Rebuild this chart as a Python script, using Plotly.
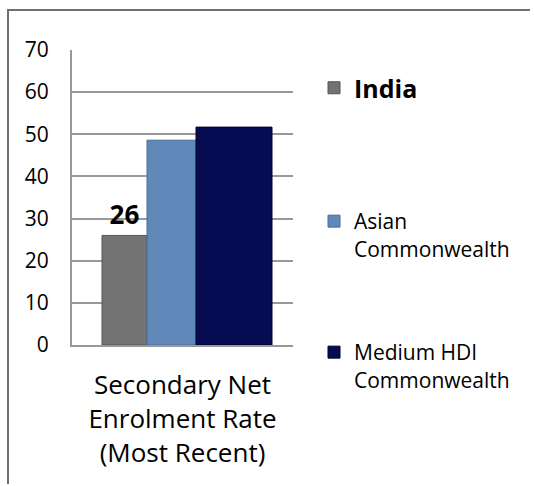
import plotly.graph_objects as go

categories = ["Secondary Net<br>Enrolment Rate<br>(Most Recent)"]
series_names = ["<b>India</b>", "Asian<br>Commonwealth", "Medium HDI<br>Commonwealth"]
india = [26]
asian = [48.6]
medium_hdi = [51.7]
india_label = ["26"]
y_ticks = [0, 10, 20, 30, 40, 50, 60, 70]

W, H = 534, 486
PL, PR, PT, PB = 72, 293, 50, 345  # plot area in screen pixels
L, R, T, B = PL, W - PR, PT, H - PB
pw, ph = PR - PL, PB - PT

def px_x(p):
    return (p - PL) / pw

def px_y(p):
    return (PB - p) / ph

FONT = "Open Sans"

fig = go.Figure()
fig.add_trace(go.Bar(
    x=categories, y=india, name=series_names[0], legend="legend",
    offset=px_x(102) - 0.5, width=(147 - 102) / pw,
    marker=dict(color="#737373", line=dict(color="#555555", width=1)),
    text=india_label, textposition="outside", cliponaxis=False,
    textfont=dict(family=FONT, size=26, color="#000000", weight="bold"),
))
fig.add_trace(go.Bar(
    x=categories, y=asian, name=series_names[1], legend="legend2",
    offset=px_x(147) - 0.5, width=(196 - 147) / pw,
    marker=dict(color="#6088b8", line=dict(color="#4a6d9a", width=1)),
))
fig.add_trace(go.Bar(
    x=categories, y=medium_hdi, name=series_names[2], legend="legend3",
    offset=px_x(196) - 0.5, width=(272 - 196) / pw,
    marker=dict(color="#060b52", line=dict(color="#00002e", width=1)),
))

leg_common = dict(xanchor="left", yanchor="middle", bgcolor="rgba(0,0,0,0)",
                  valign="top", itemclick=False, visible=True)

fig.update_layout(
    width=W, height=H,
    margin=dict(l=L, r=R, t=T, b=B, pad=0),
    paper_bgcolor="white", plot_bgcolor="white",
    font=dict(family=FONT, color="#000000"),
    barmode="overlay",
    showlegend=True,
    legend=dict(x=px_x(314), y=px_y(88), font=dict(size=25, color="#000000"), **leg_common),
    legend2=dict(x=px_x(314), y=px_y(235), font=dict(size=21, color="#000000"), **leg_common),
    legend3=dict(x=px_x(314), y=px_y(366), font=dict(size=21, color="#000000"), **leg_common),
    xaxis=dict(
        range=[-0.5, 0.5], showgrid=False, showline=True, linecolor="#999999", linewidth=2,
        ticks="outside", ticklen=16, tickcolor="rgba(0,0,0,0)",
        tickfont=dict(family=FONT, size=26, color="#000000"), fixedrange=True,
    ),
    yaxis=dict(
        range=[0, 70], tickvals=y_ticks, showgrid=True, gridcolor="#999999", gridwidth=2,
        showline=True, linecolor="#999999", linewidth=2, zeroline=False,
        ticks="outside", ticklen=17, tickcolor="rgba(0,0,0,0)",
        tickfont=dict(family=FONT, size=21, color="#000000"), fixedrange=True,
    ),
    shapes=[
        dict(type="path", xref="paper", yref="paper",
             path=f"M {px_x(8)},{px_y(484)} L {px_x(8)},{px_y(10)} L {px_x(530)},{px_y(10)}",
             line=dict(color="#6f6f6f", width=2)),
    ],
)

fig.write_html(
    "out.html",
    config={"displayModeBar": False},
    post_script="document.body.style.margin='0';document.body.style.overflow='hidden';",
)
